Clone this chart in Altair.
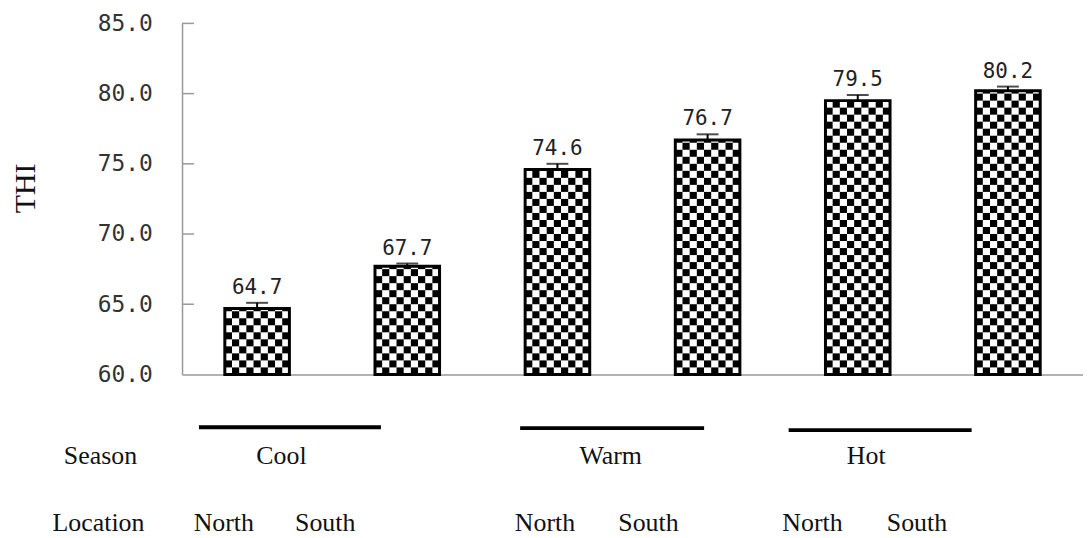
import altair as alt
import pandas as pd

# ---- data ----
seasons = ["Cool", "Cool", "Warm", "Warm", "Hot", "Hot"]
locations = ["North", "South", "North", "South", "North", "South"]
thi = [64.7, 67.7, 74.6, 76.7, 79.5, 80.2]
err = [0.4, 0.2, 0.4, 0.4, 0.4, 0.3]
y_ticks = [60, 65, 70, 75, 80, 85]
season_names = ["Cool", "Warm", "Hot"]

bar_ids = [f"{s} {l}" for s, l in zip(seasons, locations)]
df = pd.DataFrame({"bar": bar_ids, "thi": thi, "err": err})
df["top"] = df["thi"] + df["err"]

# checker pattern cells (decoration of each bar)
N_COLS = 9
STEP = 0.5
cells = []
for b, v in zip(bar_ids, thi):
    r = 0
    while 60 + r * STEP < v - 1e-9:
        y0 = 60 + r * STEP
        y1 = min(y0 + STEP, v)
        for c in range(N_COLS):
            if (r + c) % 2 == 1:
                cells.append({"bar": b, "c": c, "y0": y0, "y1": y1})
        r += 1
cells_df = pd.DataFrame(cells)

# ---- layout (pixels relative to plot origin) ----
SERIF = "Liberation Serif"
NUMF = "DejaVu Sans Mono"
season_row_y = 443
loc_row_y = 510
season_label_x = [100, 431, 688]
loc_label_x = [42, 144, 365, 469, 634, 739]
season_lines = [(17, 200, 406), (340, 525, 407), (610, 794, 409)]

x_axis = alt.Axis(labels=False, ticks=False, title=None, domainColor="#999999",
                  domainWidth=1.5, grid=False)
y_axis = alt.Axis(values=y_ticks, format=".1f", ticks=False, tickSize=0,
                  labelPadding=30, labelFont=NUMF, labelFontSize=23,
                  labelColor="#333333", domainColor="#999999", domainWidth=1.5,
                  grid=False, title=None)
x_scale = alt.Scale(paddingInner=0.57, paddingOuter=0.285)
y_scale = alt.Scale(domain=[60, 85], nice=False, zero=False)


def X():
    return alt.X("bar:N", sort=bar_ids, scale=x_scale, axis=x_axis)


def Y(field):
    return alt.Y(field, scale=y_scale, axis=y_axis, title=None)


bars_white = alt.Chart(df).mark_bar(fill="white").encode(
    x=X(), y=Y("thi:Q"), y2=alt.datum(60),
)

checker = alt.Chart(cells_df).mark_rect(fill="black").encode(
    x=X(),
    xOffset=alt.XOffset("c:O", scale=alt.Scale(paddingInner=0, paddingOuter=0)),
    y=Y("y0:Q"),
    y2="y1:Q",
)

bars_outline = alt.Chart(df).mark_bar(fill=None, stroke="black", strokeWidth=3).encode(
    x=X(), y=Y("thi:Q"), y2=alt.datum(60),
)

err_rule = alt.Chart(df).mark_rule(color="black", strokeWidth=2).encode(
    x=X(), y=Y("thi:Q"), y2="top:Q",
)
err_cap = alt.Chart(df).mark_tick(color="black", thickness=2, size=22).encode(
    x=X(), y=Y("top:Q"),
)
value_labels = alt.Chart(df).mark_text(
    baseline="bottom", dy=-5, font=NUMF, fontSize=21, color="#222222"
).encode(
    x=X(), y=Y("top:Q"), text=alt.Text("thi:Q", format=".1f"),
)

tick_df = pd.DataFrame({"v": y_ticks[1:]})
inner_ticks = alt.Chart(tick_df).mark_rule(color="#999999", strokeWidth=1.5).encode(
    x=alt.value(0), x2=alt.value(12), y=Y("v:Q")
)

title_df = pd.DataFrame({"t": ["THI"]})
y_title = alt.Chart(title_df).mark_text(
    angle=270, font=SERIF, fontSize=30, color="#111111", baseline="middle", align="center"
).encode(x=alt.value(-157), y=alt.value(166), text="t:N")

layers = [bars_white, checker, bars_outline, err_rule, err_cap, value_labels, inner_ticks, y_title]


def label(txt, x, y):
    d = pd.DataFrame({"t": [txt]})
    return alt.Chart(d).mark_text(
        font=SERIF, fontSize=26, color="#111111", baseline="alphabetic", align="center"
    ).encode(x=alt.value(x), y=alt.value(y), text="t:N")


layers.append(label("Season", -82, season_row_y))
layers.append(label("Location", -84, loc_row_y))
for name, x in zip(season_names, season_label_x):
    layers.append(label(name, x, season_row_y))
for name, x in zip(locations, loc_label_x):
    layers.append(label(name, x, loc_row_y))
for i, (x1, x2, yy) in enumerate(season_lines):
    d = pd.DataFrame({"s": [season_names[i]]})
    layers.append(
        alt.Chart(d).mark_rule(color="black", strokeWidth=4).encode(
            x=alt.value(x1), x2=alt.value(x2), y=alt.value(yy)
        )
    )

chart = alt.layer(*layers).properties(
    width=906,
    height=353,
    padding={"left": 175, "top": 14, "right": 0, "bottom": 163},
    autosize=alt.AutoSizeParams(type="none"),
).configure_view(stroke=None)

chart.save("out.html", embed_options={"renderer": "svg", "actions": False})
